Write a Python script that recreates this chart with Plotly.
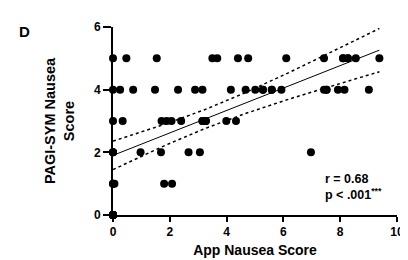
import numpy as np
import plotly.graph_objects as go

# App nausea score (x) and PAGI-SYM nausea score (y), grouped by PAGI-SYM level
# (overlapping markers included as repeated values)
x_y5 = [0, 0.47, 1.54, 3.5, 3.67, 4.4, 4.76, 6.1, 7.43, 8.1, 8.1, 8.27, 8.27, 8.55, 9.38]
x_y4 = [0, 0.25, 0.71, 1.48, 2.29, 2.89, 3.15, 4.15, 4.67, 5.01, 5.28, 5.28, 5.59, 5.59, 5.93,
        7.43, 7.52, 7.52, 7.92, 8.15, 9.01]
x_y3 = [0, 0.34, 1.71, 1.89, 2.06, 2.4, 3.15, 3.15, 3.27, 3.27, 3.99, 4.33]
x_y2 = [0, 0, 0, 0.97, 1.69, 2.66, 3.06, 6.97]
x_y1 = [0, 0, 0.05, 1.8, 2.08]
x_y0 = [0, 0, 0, 0, 0, 0, 0, 0, 0]

app_score = x_y5 + x_y4 + x_y3 + x_y2 + x_y1 + x_y0
pagi_score = [5]*len(x_y5) + [4]*len(x_y4) + [3]*len(x_y3) + [2]*len(x_y2) + [1]*len(x_y1) + [0]*len(x_y0)

x_ticks = [0, 2, 4, 6, 8, 10]
y_ticks = [0, 2, 4, 6]
stat_r = "0.68"
stat_p = ".001"
T_CRIT = 2.0

# Linear regression with 95% confidence band of the fitted line
xa = np.array(app_score, float)
ya = np.array(pagi_score, float)
n = len(xa)
slope, intercept = np.polyfit(xa, ya, 1)
resid = ya - (slope * xa + intercept)
s = np.sqrt(np.sum(resid**2) / (n - 2))
sxx = np.sum((xa - xa.mean())**2)

xf = np.linspace(xa.min(), xa.max(), 100)
yf = slope * xf + intercept
se = s * np.sqrt(1.0 / n + (xf - xa.mean())**2 / sxx)
lo = yf - T_CRIT * se
hi = yf + T_CRIT * se

fig = go.Figure()
fig.add_trace(go.Scatter(x=xf, y=hi, mode="lines", line=dict(color="black", width=1.5, dash="dot"), hoverinfo="skip"))
fig.add_trace(go.Scatter(x=xf, y=lo, mode="lines", line=dict(color="black", width=1.5, dash="dot"), hoverinfo="skip"))
fig.add_trace(go.Scatter(x=xf, y=yf, mode="lines", line=dict(color="black", width=1), hoverinfo="skip"))
fig.add_trace(go.Scatter(x=app_score, y=pagi_score, mode="markers",
                         marker=dict(color="black", size=8), cliponaxis=False))

font_fam = "Liberation Sans, Arial, sans-serif"
axis_common = dict(showgrid=False, zeroline=False, showline=True, linecolor="black", linewidth=2,
                   ticks="outside", tickwidth=2, tickcolor="black",
                   tickfont=dict(family=font_fam, size=12, color="black"))

fig.update_layout(
    width=408, height=260, margin=dict(l=105, r=12, t=13, b=52),
    paper_bgcolor="white", plot_bgcolor="white", showlegend=False,
    xaxis=dict(range=[0, 10], tickvals=x_ticks, ticktext=[f"<b>{v}</b>" for v in x_ticks], ticklen=5,
               title=dict(text="<b>App Nausea Score</b>", font=dict(family=font_fam, size=14, color="black"), standoff=7),
               **axis_common),
    yaxis=dict(range=[0, 6], tickvals=y_ticks, ticktext=[f"<b>{v}</b>" for v in y_ticks], ticklen=8,
               title=dict(text="<b>PAGI-SYM Nausea<br>Score</b>", font=dict(family=font_fam, size=14.5, color="black"), standoff=16),
               **axis_common),
)
fig.add_annotation(text="<b>D</b>", x=-0.312, y=0.974, xref="paper", yref="paper", showarrow=False,
                   xanchor="center", yanchor="middle",
                   font=dict(family=font_fam, size=15, color="black"))
fig.add_annotation(text=f"<b>r = {stat_r}<br>p < {stat_p}<sup>***</sup></b>", x=0.74, y=0.06, xref="paper", yref="paper",
                   showarrow=False, align="left", xanchor="left", yanchor="bottom",
                   font=dict(family=font_fam, size=12.5, color="black"))
fig.write_html("out.html")
